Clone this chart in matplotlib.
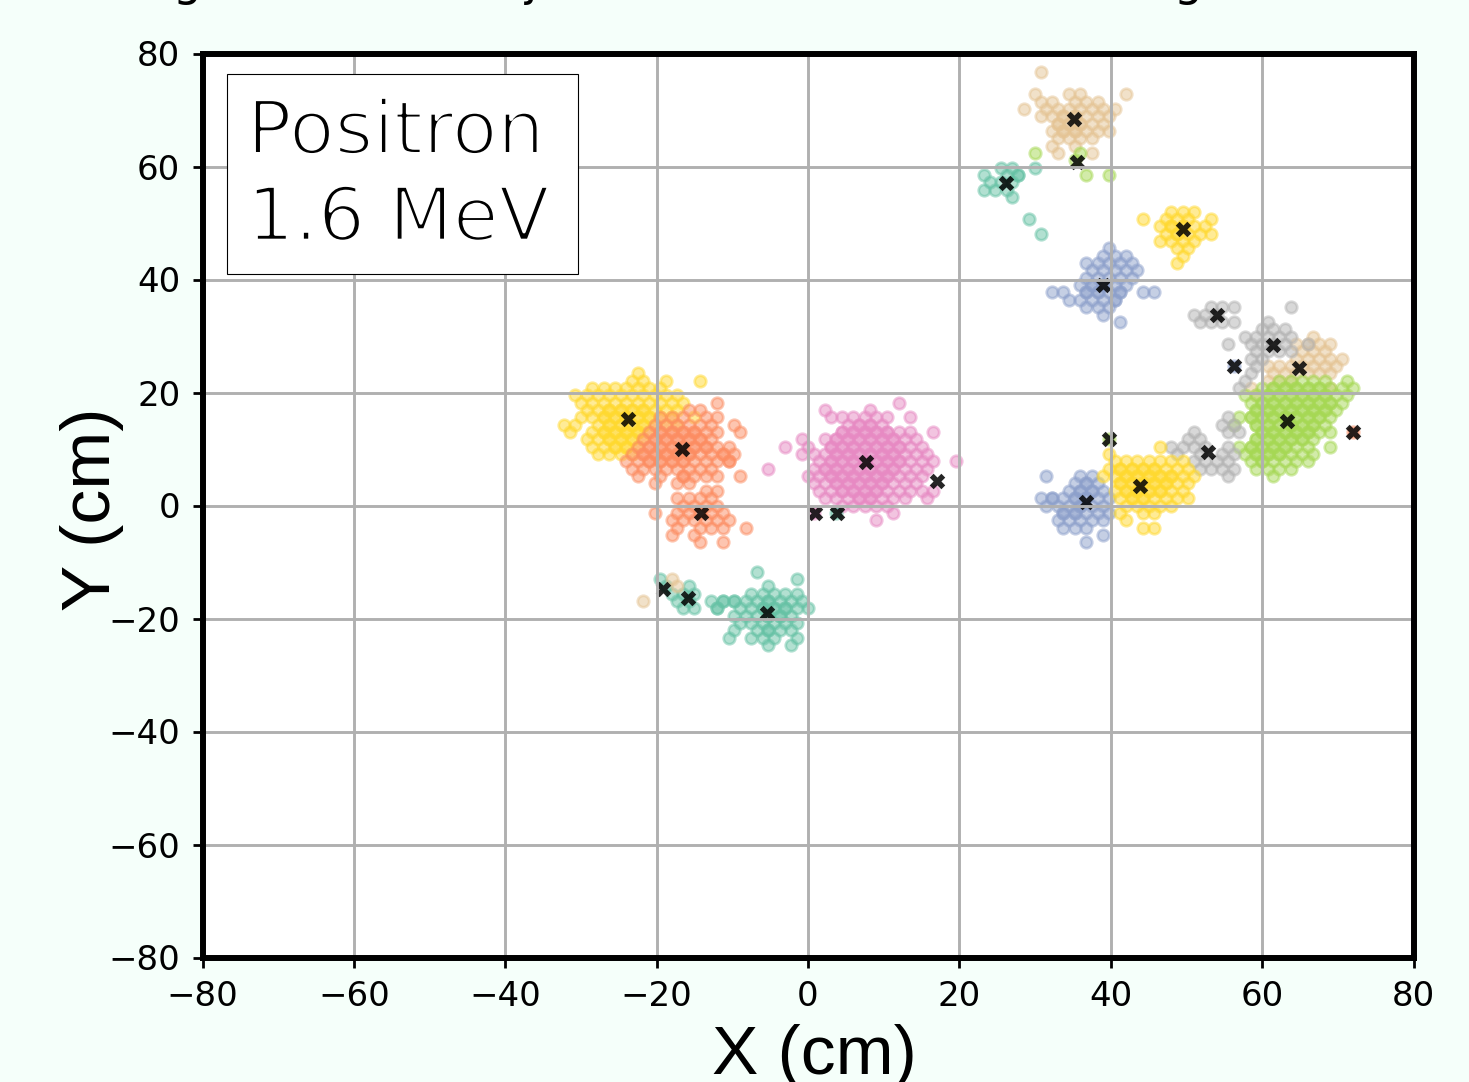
import matplotlib
matplotlib.use('Agg')
import matplotlib.pyplot as plt
from matplotlib.patches import Rectangle
import matplotlib.patheffects as pe

# hit pads as (row, [columns]) on the hexagonal lattice
COL_CM = 0.75
ROW_CM = 1.3

yellow_left = [
    (18, [-30]),
    (17, [-31, -29, -25, -19]),
    (16, [-38, -36, -34, -32, -30, -28, -26]),
    (15, [-41, -39, -37, -35, -33, -31, -29, -27, -25, -23]),
    (14, [-40, -38, -36, -34, -32, -30, -28, -26, -24, -22]),
    (13, [-39, -37, -35, -33, -31, -29, -27, -25, -23]),
    (12, [-40, -38, -36, -34, -32, -30, -28, -26, -24, -20]),
    (11, [-43, -41, -37, -35, -33, -31, -29, -27, -25, -23]),
    (10, [-42, -38, -36, -34, -32, -30, -28]),
    (9, [-39, -37, -35, -33, -31, -29]),
    (8, [-38, -36, -34, -32, -30]),
    (7, [-37, -35, -33, -31]),
]
# pads hit more than once show up darker
yellow_left_repeat = [
    (13, [-35, -33, -31, -29]),
    (12, [-36, -34, -32, -30, -28]),
    (11, [-35, -33, -31, -29]),
    (10, [-36, -34, -32, -30]),
    (9, [-35, -33, -31]),
    (8, [-34, -32]),
]
orange_big = [
    (14, [-16]),
    (13, [-21, -19]),
    (12, [-26, -24, -22, -18, -16]),
    (11, [-27, -25, -23, -21, -19, -17, -13]),
    (10, [-28, -26, -24, -22, -20, -18, -16, -12]),
    (9, [-29, -27, -25, -23, -21, -19, -17]),
    (8, [-30, -28, -26, -24, -22, -20, -18, -16, -14]),
    (7, [-31, -29, -27, -25, -23, -21, -19, -17, -15, -13]),
    (6, [-32, -30, -28, -26, -24, -22, -20, -18, -16, -14]),
    (5, [-31, -29, -27, -25, -23, -21, -19, -17]),
    (4, [-30, -26, -22, -20, -18, -16, -12]),
    (3, [-27, -23, -21]),
]
orange_big_repeat = [
    (10, [-26, -24, -22, -20]),
    (9, [-27, -25, -23, -21, -19]),
    (8, [-28, -26, -24, -22, -20, -18]),
    (7, [-29, -27, -25, -23, -21, -15]),
    (6, [-28, -26, -24, -22, -14]),
    (4, [-22]),
]
orange_low = [
    (2, [-18, -16]),
    (1, [-23, -21, -19, -17]),
    (0, [-22, -20, -18, -16]),
    (-1, [-27, -23, -21, -19, -17, -15]),
    (-2, [-24, -22, -20, -18, -16, -14]),
    (-3, [-23, -19, -17, -15, -11]),
    (-4, [-24, -20]),
    (-5, [-19, -15]),
]
orange_single = [(10, [96])]
pink_big = [
    (14, [16]),
    (13, [3, 11]),
    (12, [4, 6, 8, 10, 12, 14, 18]),
    (11, [7, 9, 11, 13]),
    (10, [6, 8, 10, 12, 14, 16, 18, 22]),
    (9, [-1, 3, 5, 7, 9, 11, 13, 15, 17, 19]),
    (8, [-4, 0, 4, 6, 8, 10, 12, 14, 16, 18, 20]),
    (7, [-1, 1, 3, 5, 7, 9, 11, 13, 15, 17, 19, 21]),
    (6, [2, 4, 6, 8, 10, 12, 14, 16, 18, 20, 22, 26]),
    (5, [-7, 1, 3, 5, 7, 9, 11, 13, 15, 17, 19, 21]),
    (4, [0, 2, 4, 6, 8, 10, 12, 14, 16, 18, 20]),
    (3, [1, 3, 5, 7, 9, 11, 13, 15, 17, 19]),
    (2, [2, 4, 6, 8, 10, 12, 14, 16, 18, 20, 22]),
    (1, [3, 5, 7, 9, 11, 13, 15, 17, 21]),
    (0, [6, 8, 10, 12, 14]),
    (-1, [1, 15]),
    (-2, [12]),
]
pink_big_repeat = [
    (11, [9, 11]),
    (10, [6, 8, 10, 12, 14]),
    (9, [5, 7, 9, 11, 13, 15]),
    (8, [4, 6, 8, 10, 12, 14, 16]),
    (7, [5, 7, 9, 11, 13, 15]),
    (6, [4, 6, 8, 10, 12, 14, 16]),
    (5, [3, 5, 7, 9, 11, 13, 15]),
    (4, [4, 6, 8, 10, 12, 14]),
    (3, [5, 7, 9, 11, 13]),
    (2, [6, 8, 10, 12]),
    (1, [9, 11]),
]
teal_low = [
    (-9, [-9]),
    (-10, [-2]),
    (-11, [-7]),
    (-12, [-10, -8, -6, -4, -2]),
    (-13, [-17, -15, -13, -11, -9, -7, -5, -3, -1]),
    (-14, [-16, -12, -10, -8, -6, -4, -2, 0]),
    (-15, [-13, -11, -9, -7, -5, -3]),
    (-16, [-12, -10, -8, -6, -4, -2]),
    (-17, [-13, -9, -7, -5, -3]),
    (-18, [-14, -10, -8, -6, -2]),
    (-19, [-7, -3]),
]
teal_low_repeat = [
    (-13, [-15, -13, -7]),
    (-14, [-16, -8, -6, -4]),
    (-15, [-7, -5]),
    (-17, [-7]),
]
teal_small = [
    (-10, [-26]),
    (-11, [-25, -21]),
    (-12, [-24, -22, -20]),
    (-13, [-23, -21]),
    (-14, [-22, -20]),
]
teal_single = [(-1, [5])]
beige_small = [
    (-10, [-24]),
    (-11, [-23]),
    (-13, [-29]),
]
beige_top = [
    (59, [41]),
    (56, [40, 46, 48, 56]),
    (55, [41, 43, 47, 49, 51]),
    (54, [38, 42, 44, 46, 48, 50, 52, 54]),
    (53, [41, 43, 45, 47, 49, 51, 53]),
    (52, [44, 46, 48, 50, 52]),
    (51, [43, 45, 47, 49, 51, 53]),
    (50, [44, 46, 48, 50]),
    (49, [43, 47]),
    (48, [44, 50]),
]
beige_top_repeat = [
    (53, [45, 47]),
    (52, [44, 46, 48]),
    (51, [45, 47]),
]
lime_top = [
    (48, [40, 48]),
    (47, [47]),
    (45, [49, 53]),
]
lime_single = [(9, [53])]
teal_top = [
    (46, [34, 36, 40]),
    (45, [31, 35, 37, 37]),
    (44, [32, 34, 36]),
    (43, [31, 33, 35]),
    (42, [36]),
    (39, [39]),
    (37, [41]),
]
yellow_top = [
    (40, [64, 66, 68]),
    (39, [59, 63, 65, 67, 71]),
    (38, [62, 64, 66, 68, 70]),
    (37, [63, 65, 67, 69, 71]),
    (36, [62, 64, 66, 68]),
    (35, [65, 67]),
    (34, [66]),
    (33, [65]),
]
yellow_top_repeat = [
    (38, [64, 66]),
    (37, [65]),
]
blue_top = [
    (35, [53]),
    (34, [52, 54, 56]),
    (33, [49, 51, 53, 55, 57]),
    (32, [50, 52, 54, 56, 58]),
    (31, [49, 51, 53, 55, 57]),
    (30, [48, 50, 52, 54, 56]),
    (29, [43, 45, 49, 51, 53, 55, 59, 61]),
    (28, [46, 48, 50, 52, 54]),
    (27, [49, 51, 53]),
    (26, [52]),
    (25, [55]),
]
blue_top_repeat = [
    (30, [50, 52]),
    (29, [49, 51, 55]),
    (28, [54]),
]
blue_single = [(19, [75])]
beige_right = [
    (23, [89]),
    (22, [86, 88, 90, 92]),
    (21, [87, 89, 91]),
    (20, [86, 88, 90, 92, 94]),
    (19, [81, 83, 85, 87, 89, 91, 93]),
    (18, [82, 84, 86, 88, 90, 92]),
    (17, [81, 83, 85]),
    (16, [78, 92]),
    (15, [79]),
]
gray_top = [
    (27, [71, 73, 75, 85]),
    (26, [68, 70, 72]),
    (25, [69, 71, 73, 75, 81]),
    (24, [80, 82, 84]),
    (23, [77, 79, 81, 83, 85]),
    (22, [74, 78, 80, 82, 84, 88]),
    (21, [79, 81, 83, 85]),
    (20, [78, 80]),
    (19, [79]),
    (18, [78]),
    (17, [77]),
    (16, [76]),
]
lime_big = [
    (17, [83, 85, 87, 89, 91, 95]),
    (16, [80, 82, 84, 86, 88, 90, 92, 94, 96]),
    (15, [77, 79, 81, 83, 85, 87, 89, 91, 93, 95]),
    (14, [78, 80, 82, 84, 86, 88, 90, 92, 94]),
    (13, [79, 81, 83, 85, 87, 89, 91, 93]),
    (12, [76, 78, 80, 82, 84, 86, 88, 90, 92]),
    (11, [75, 79, 81, 83, 85, 87, 89, 91]),
    (10, [80, 82, 84, 86, 88, 90, 92]),
    (9, [79, 81, 83, 85, 87, 89]),
    (8, [76, 78, 80, 82, 84, 86, 88, 92]),
    (7, [77, 79, 81, 83, 85, 87, 89]),
    (6, [78, 80, 82, 84, 86, 88]),
    (5, [79, 81, 83, 85]),
    (4, [82]),
]
lime_big_repeat = [
    (16, [82, 84, 86, 88, 90]),
    (15, [81, 83, 85, 87, 89, 91]),
    (14, [80, 82, 84, 86, 88, 90, 92]),
    (13, [79, 81, 83, 85, 87, 89, 91]),
    (12, [78, 80, 82, 84, 86, 88, 90]),
    (11, [79, 81, 83, 85, 87, 89]),
    (10, [80, 82, 84, 86, 88]),
    (9, [79, 81, 83, 85, 87]),
    (8, [78, 80, 82, 84]),
    (7, [79, 81, 83]),
    (6, [80]),
]
gray_low = [
    (12, [74]),
    (11, [73, 75]),
    (10, [68, 74, 76]),
    (9, [67, 69]),
    (8, [64, 66, 68, 70, 74]),
    (7, [65, 69, 73, 75]),
    (6, [68, 70, 72, 74]),
    (5, [69, 71, 73, 75]),
    (4, [74]),
]
blue_low = [
    (4, [42, 48, 50]),
    (3, [47, 49, 51]),
    (2, [46, 48, 50, 52]),
    (1, [41, 43, 45, 47, 49, 51, 53]),
    (0, [42, 44, 46, 48, 50, 52]),
    (-1, [45, 47, 49, 51, 53]),
    (-2, [44, 46, 48, 50, 52]),
    (-3, [45, 47, 49]),
    (-4, [52]),
    (-5, [49]),
]
blue_low_repeat = [
    (3, [49]),
    (2, [48, 50]),
    (1, [47, 49, 43]),
    (0, [48]),
    (-1, [45, 47]),
]
yellow_low = [
    (8, [62]),
    (7, [53]),
    (6, [54, 56, 58, 60, 62, 64, 66]),
    (5, [53, 55, 57, 59, 61, 63, 65, 67]),
    (4, [52, 54, 56, 58, 60, 62, 64, 66, 68]),
    (3, [55, 57, 59, 61, 63, 65, 67]),
    (2, [54, 56, 58, 60, 62, 64, 66]),
    (1, [55, 57, 59, 61, 63, 65, 67]),
    (0, [56, 58, 60, 62, 64]),
    (-1, [55, 59, 61]),
    (-2, [56]),
    (-3, [59, 61]),
]
yellow_low_repeat = [
    (5, [55, 57, 59, 61]),
    (4, [56, 58, 60, 62, 64]),
    (3, [55, 57, 59, 61, 63]),
    (2, [56, 58, 60, 62]),
    (1, [57, 59]),
]

# cluster centres (cm)
centre_x = [-23.8, -16.7, -14.1, 7.6, 17.0, 0.9, 3.8, -19.1, -15.8, -5.4, 35.2, 35.6, 26.2,
            49.6, 39.0, 54.1, 61.5, 56.3, 64.9, 63.3, 72.0, 52.9, 39.8, 43.8, 36.7]
centre_y = [15.3, 10.0, -1.3, 7.7, 4.3, -1.3, -1.3, -14.7, -16.3, -19.1, 68.4, 60.8, 57.1,
            48.9, 39.0, 33.7, 28.4, 24.7, 24.3, 15.0, 13.0, 9.5, 11.7, 3.4, 0.6]

ticks = [-80, -60, -40, -20, 0, 20, 40, 60, 80]

TEAL = '#66c2a5'
ORANGE = '#fc8d62'
BLUE = '#8da0cb'
PINK = '#e78ac3'
LIME = '#a6d854'
YELLOW = '#ffd92f'
BEIGE = '#e5c494'
GRAY = '#b3b3b3'

W, H = 1469, 1082
fig = plt.figure(figsize=(W / 100, H / 100), dpi=100, facecolor='#f5fffa')
ax = fig.add_axes([202.5 / W, 1 - 957.5 / H, 1211 / W, 904 / H])


def draw_pads(rows, color):
    xs = []
    ys = []
    for row, cols in rows:
        for col in cols:
            xs.append(col * COL_CM)
            ys.append(row * ROW_CM)
    ax.scatter(xs, ys, s=68, c=color, alpha=0.5, linewidths=2)


draw_pads(yellow_left, YELLOW)
draw_pads(yellow_left_repeat, YELLOW)
draw_pads(orange_big, ORANGE)
draw_pads(orange_big_repeat, ORANGE)
draw_pads(orange_low, ORANGE)
draw_pads(orange_single, ORANGE)
draw_pads(pink_big, PINK)
draw_pads(pink_big_repeat, PINK)
draw_pads(teal_low, TEAL)
draw_pads(teal_low_repeat, TEAL)
draw_pads(teal_small, TEAL)
draw_pads(teal_single, TEAL)
draw_pads(beige_small, BEIGE)
draw_pads(beige_top, BEIGE)
draw_pads(beige_top_repeat, BEIGE)
draw_pads(lime_top, LIME)
draw_pads(lime_single, LIME)
draw_pads(teal_top, TEAL)
draw_pads(yellow_top, YELLOW)
draw_pads(yellow_top_repeat, YELLOW)
draw_pads(blue_top, BLUE)
draw_pads(blue_top_repeat, BLUE)
draw_pads(blue_single, BLUE)
draw_pads(beige_right, BEIGE)
draw_pads(lime_big, LIME)
draw_pads(lime_big_repeat, LIME)
draw_pads(gray_top, GRAY)
draw_pads(gray_low, GRAY)
draw_pads(blue_low, BLUE)
draw_pads(blue_low_repeat, BLUE)
draw_pads(yellow_low, YELLOW)
draw_pads(yellow_low_repeat, YELLOW)

ax.scatter(centre_x, centre_y, s=125, c='black', marker='X', alpha=0.85, linewidths=0)

ax.set_xlim(-80, 80)
ax.set_ylim(-80, 80)
ax.set_xticks(ticks)
ax.set_yticks(ticks)
ax.tick_params(labelsize=24.5, length=7.5, width=2, pad=8.5)
ax.grid(True, color='#b0b0b0', linewidth=2.1)
ax.set_axisbelow(False)
for side in ax.spines:
    ax.spines[side].set_linewidth(4.3)
    ax.spines[side].set_zorder(4)

ax.set_xlabel('X (cm)', fontsize=50, family='Liberation Sans', va='baseline')
ax.xaxis.set_label_coords(612 / 1211, -117 / 904)
ax.set_ylabel('Y (cm)', fontsize=50, family='Liberation Sans', va='baseline')
ax.yaxis.set_label_coords(-92 / 1211, 448 / 904)

# label box
ax.add_patch(Rectangle((24 / 1211, 684 / 904), 351 / 1211, 200 / 904, transform=ax.transAxes,
                       fc='white', ec='black', lw=0.8, zorder=5))
ax.text(44.5 / 1211, 781 / 904, 'Positron\n1.6 MeV', transform=ax.transAxes, fontsize=53.5,
        ha='left', va='center', linespacing=1.24, zorder=6,
        path_effects=[pe.Stroke(linewidth=2.4, foreground='white')])

# what is left of the title, cut off by the top of the image
for letter, px in [('g', 187), ('j', 531), ('g', 1188)]:
    fig.text(px / W, 1 + 5 / H, letter, fontsize=33, ha='center', va='baseline')

fig.savefig('out.png', dpi=100, facecolor=fig.get_facecolor())
